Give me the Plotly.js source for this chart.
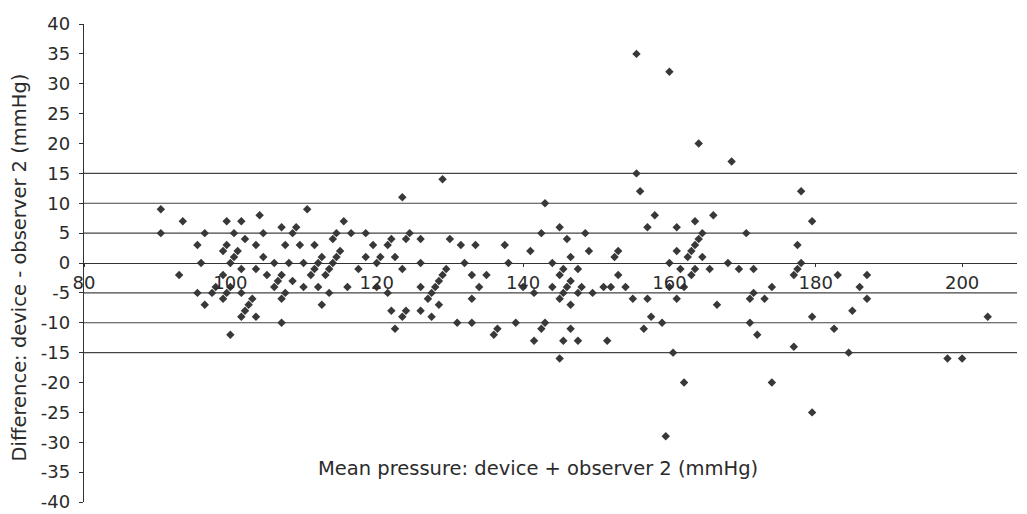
<!DOCTYPE html>
<html>
<head>
<meta charset="utf-8">
<script src="https://cdn.plot.ly/plotly-3.0.1.min.js"></script>
<style>
  html, body { margin: 0; padding: 0; background: #ffffff; }
  #chart { width: 1027px; height: 514px; }
</style>
</head>
<body>
<div id="chart"></div>
<script>
// Mean pressure: (device + observer 2) / 2, mmHg
const meanPressure = [
  90.5, 90.5, 93, 93.5, 95.5, 95.5, 96, 96.5, 96.5, 97.5,
  98, 99, 99, 99, 99.5, 99.5, 99.5, 100, 100, 100,
  100.5, 100.5, 101, 101.5, 101.5, 101.5, 101.5, 102, 102, 102.5,
  103, 103.5, 103.5, 103.5, 104, 104.5, 104.5, 105, 106, 106,
  106.5, 107, 107, 107, 107, 107.5, 107.5, 108, 108.5, 108.5,
  109, 109.5, 110, 110, 110.5,
  111, 111.5, 111.5, 112, 112, 112.5, 112.5, 113, 113.5, 113.5,
  114, 114, 114.5, 114.5, 115, 115.5, 116, 116.5, 117.5, 118.5,
  118.5, 119.5, 120, 120, 120.5, 121.5, 121.5, 122, 122, 122.5,
  122.5, 123.5, 123.5, 123.5, 124, 124, 124.5, 126, 126, 126,
  126, 127, 127.5, 127.5, 128, 128.5, 128.5, 129, 129, 129.5,
  130, 131, 131.5, 132, 133, 133, 133, 133.5, 134, 135,
  136, 136.5, 137.5, 138, 139, 140,
  141, 141.5, 141.5, 142.5, 142.5, 143, 143, 144, 144, 145,
  145, 145, 145, 145.5, 145.5, 145.5, 146, 146, 146.5, 146.5,
  146.5, 146.5, 147.5, 147.5, 147.5, 148, 148.5, 149, 149.5, 151,
  151.5, 152, 152.5, 153, 153, 154, 155, 155.5, 155.5, 156,
  156.5, 157, 157, 157.5, 158, 159, 159.5, 160, 160, 160,
  160.5, 161, 161, 161, 161.5, 162, 162, 162.5, 163, 163,
  163.5, 163.5, 163.5, 164, 164, 164.5, 164.5, 165.5, 166, 166.5,
  168, 168.5, 169.5, 170.5, 171, 171, 171.5, 171.5, 172,
  173, 174, 174, 177, 177, 177.5, 177.5, 178, 178, 179.5,
  179.5, 179.5, 182.5, 183, 184.5, 185, 186, 187, 187, 198,
  200, 203.5
];
// Difference: device - observer 2, mmHg
const difference = [
  9, 5, -2, 7, 3, -5, 0, 5, -7, -5,
  -4, 2, -2, -6, 7, 3, -5, 0, -4, -12,
  5, 1, 2, 7, -1, -5, -9, 4, -8, -7,
  -6, 3, -1, -9, 8, 5, 1, -2, 0, -4,
  -3, 6, -2, -6, -10, 3, -5, 0, 5, -3,
  6, 3, 0, -4, 9,
  -2, 3, -1, 0, -4, 1, -7, -2, -1, -5,
  0, 4, 5, 1, 2, 7, -4, 5, -1, 5,
  1, 3, 0, -4, 1, 3, -5, 4, -8, 1,
  -11, 11, -1, -9, 4, -8, 5, 4, 0, -4,
  -8, -6, -5, -9, -4, -3, -7, 14, -2, -1,
  4, -10, 3, 0, -2, -6, -10, 3, -4, -2,
  -12, -11, 3, 0, -10, -4,
  2, -5, -13, 5, -11, 10, -10, 0, -4, 6,
  -2, -6, -16, -1, -5, -13, 4, -4, 1, -3,
  -7, -11, -1, -5, -13, -4, 5, 2, -5, -4,
  -13, -4, 1, 2, -2, -4, -6, 35, 15, 12,
  -11, 6, -6, -9, 8, -10, -29, 32, 0, -4,
  -15, 6, 2, -6, -1, -4, -20, 1, 2, -2,
  7, 3, -1, 20, 4, 5, 1, -1, 8, -7,
  0, 17, -1, 5, -6, -10, -1, -5, -12,
  -6, -4, -20, -2, -14, 3, -1, 12, 0, 7,
  -9, -25, -11, -2, -15, -8, -4, -2, -6, -16,
  -16, -9
];
// Reference lines drawn across the plot
const gridValues = [15, 10, 5, -5, -10, -15];
// Tick labels
const xTickValues = [80, 100, 120, 140, 160, 180, 200];
const yTickValues = [40, 35, 30, 25, 20, 15, 10, 5, 0, -5, -10, -15, -20, -25, -30, -35, -40];
const xTitle = 'Mean pressure: device + observer 2 (mmHg)';
const yTitle = 'Difference: device - observer 2 (mmHg)';

const FONT = 'DejaVu Sans, Verdana, sans-serif';
const INK = '#2b2b2b';

const trace = {
  type: 'scatter',
  mode: 'markers',
  x: meanPressure,
  y: difference,
  marker: { symbol: 'diamond', size: 6.5, color: '#383838', line: { width: 0 } },
  hoverinfo: 'x+y',
  showlegend: false
};

const layout = {
  width: 1027,
  height: 514,
  margin: { l: 84, r: 10, t: 24, b: 12, pad: 0 },
  paper_bgcolor: '#ffffff',
  plot_bgcolor: '#ffffff',
  showlegend: false,
  xaxis: {
    range: [80, 207.5],
    anchor: 'free',
    position: 0.5,
    tickmode: 'array',
    tickvals: xTickValues,
    ticktext: xTickValues.map(String),
    showline: true,
    linecolor: '#333333',
    linewidth: 1.2,
    ticks: 'outside',
    ticklen: 3,
    tickcolor: '#333333',
    showgrid: false,
    zeroline: false,
    tickfont: { family: FONT, size: 18, color: INK }
  },
  yaxis: {
    range: [-40, 40],
    tickmode: 'array',
    tickvals: yTickValues,
    ticktext: yTickValues.map(String),
    showline: true,
    linecolor: '#333333',
    linewidth: 1.2,
    ticks: 'outside',
    ticklen: 4,
    tickcolor: '#333333',
    showgrid: false,
    zeroline: false,
    ticklabelstandoff: 5,
    tickfont: { family: FONT, size: 18, color: INK }
  },
  shapes: gridValues.map(v => ({
    type: 'line', xref: 'paper', yref: 'y',
    x0: 0, x1: 1, y0: v, y1: v,
    line: { color: '#444444', width: 1.2 },
    layer: 'below'
  })),
  annotations: [
    {
      text: xTitle, xref: 'paper', yref: 'paper',
      x: 0.487, y: 0.07, xanchor: 'center', yanchor: 'middle',
      showarrow: false, font: { family: FONT, size: 19.5, color: INK }
    },
    {
      text: yTitle, xref: 'paper', yref: 'paper',
      x: -0.069, y: 0.49, xanchor: 'center', yanchor: 'middle',
      textangle: -90,
      showarrow: false, font: { family: FONT, size: 19.5, color: INK }
    }
  ]
};

Plotly.newPlot('chart', [trace], layout, { staticPlot: true, displayModeBar: false });
</script>
</body>
</html>
